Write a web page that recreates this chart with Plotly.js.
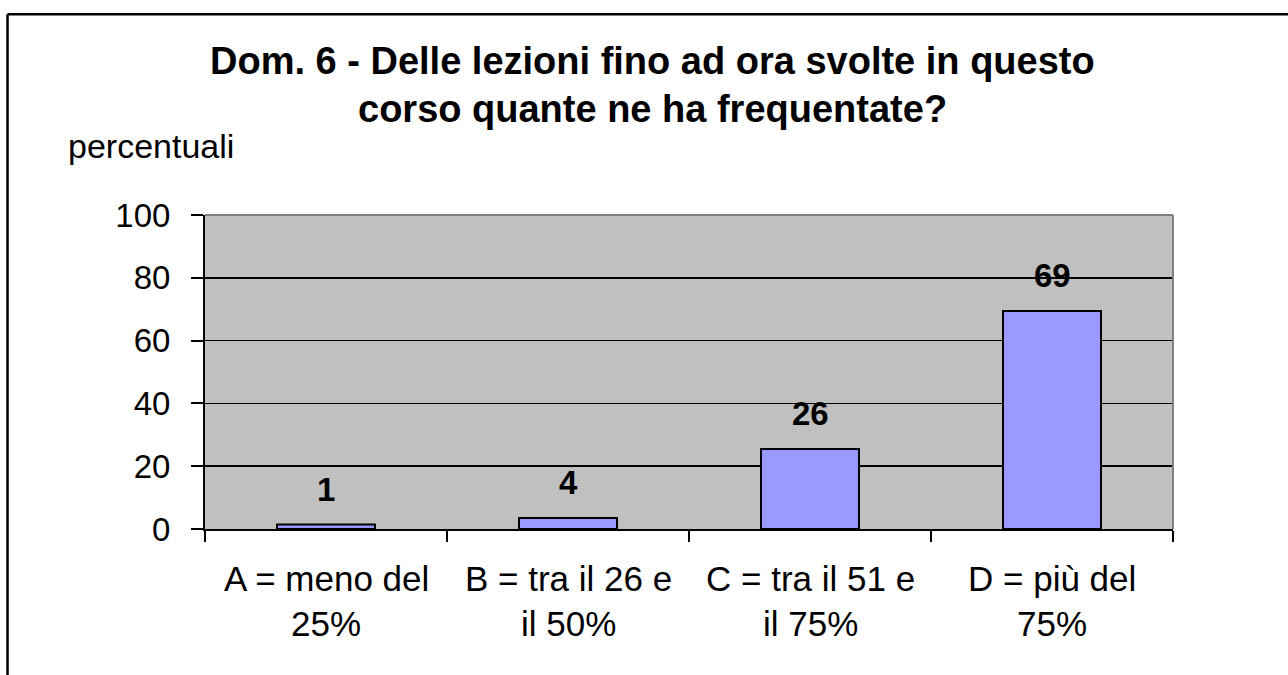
<!DOCTYPE html>
<html>
<head>
<meta charset="utf-8">
<script src="https://cdn.plot.ly/plotly-3.0.1.min.js"></script>
<style>
html,body{margin:0;padding:0;background:#fff;}
#chart{width:1288px;height:675px;}
</style>
</head>
<body>
<div id="chart"></div>
<script>
var categories = ["A", "B", "C", "D"];
var labelLine1 = ["A = meno del", "B = tra il 26 e", "C = tra il 51 e", "D = più del"];
var labelLine2 = ["25%", "il 50%", "il 75%", "75%"];
var values = [1.4, 3.5, 25.5, 69.4];
var titleLine1 = "Dom. 6 - Delle lezioni fino ad ora svolte in questo";
var titleLine2 = "corso quante ne ha frequentate?";
var yTitle = "percentuali";

var FONT = "Liberation Sans, Arial, sans-serif";

var annotations = [];
annotations.push({xref:'paper', yref:'paper', x:0.462, y:1.49, xanchor:'center', yanchor:'middle',
  text:'<b>'+titleLine1+'</b>', showarrow:false, font:{family:FONT, size:38, color:'#000'}});
annotations.push({xref:'paper', yref:'paper', x:0.462, y:1.338, xanchor:'center', yanchor:'middle',
  text:'<b>'+titleLine2+'</b>', showarrow:false, font:{family:FONT, size:38, color:'#000'}});
annotations.push({xref:'paper', yref:'paper', x:-0.1435, y:1.219, xanchor:'left', yanchor:'middle',
  text:yTitle, showarrow:false, font:{family:FONT, size:34, color:'#000'}});
for (var i = 0; i < categories.length; i++) {
  annotations.push({xref:'x', yref:'paper', x:categories[i], y:-0.157, xanchor:'center', yanchor:'middle',
    text:labelLine1[i], showarrow:false, font:{family:FONT, size:35, color:'#000'}});
  annotations.push({xref:'x', yref:'paper', x:categories[i], y:-0.300, xanchor:'center', yanchor:'middle',
    text:labelLine2[i], showarrow:false, font:{family:FONT, size:35, color:'#000'}});
  annotations.push({xref:'x', yref:'y', x:categories[i], y:values[i], xanchor:'center', yanchor:'bottom',
    yshift:15, text:'<b>'+Math.round(values[i])+'</b>', showarrow:false,
    font:{family:FONT, size:33, color:'#000'}});
}

var trace = {
  type:'bar', x:categories, y:values,
  marker:{color:'#9999FF', line:{color:'#000', width:2}},
  hoverinfo:'none'
};

var layout = {
  width:1288, height:675,
  margin:{l:205, r:115, t:215, b:145.5, pad:0},
  paper_bgcolor:'#ffffff', plot_bgcolor:'#C0C0C0',
  showlegend:false,
  bargap:0.595,
  font:{family:FONT, size:32, color:'#000'},
  xaxis:{type:'category', showticklabels:false, ticks:'outside', tickson:'boundaries',
    ticklen:11, tickwidth:2, tickcolor:'#000', showline:true, linecolor:'#000', linewidth:2,
    showgrid:false, zeroline:false, fixedrange:true},
  yaxis:{range:[0,100], dtick:20, tick0:0, ticks:'outside', ticklen:12, tickwidth:2, tickcolor:'#000',
    showline:true, linecolor:'#000', linewidth:2, showgrid:true, gridcolor:'#000', gridwidth:1.5,
    zeroline:false, tickfont:{family:FONT, size:33, color:'#000'}, ticklabelstandoff:14, fixedrange:true},
  annotations:annotations,
  shapes:[
    {type:'line', xref:'paper', yref:'paper', x0:0, x1:1, y0:1, y1:1, line:{color:'#808080', width:2}, layer:'above'},
    {type:'line', xref:'paper', yref:'paper', x0:1, x1:1, y0:0, y1:1, line:{color:'#808080', width:2}, layer:'above'},
    {type:'line', xref:'paper', yref:'paper', x0:-0.204, x1:1.4, y0:1.639, y1:1.639, line:{color:'#000', width:2.5}, layer:'below'},
    {type:'line', xref:'paper', yref:'paper', x0:-0.204, x1:-0.204, y0:-0.8, y1:1.639, line:{color:'#000', width:2.5}, layer:'below'}
  ]
};

Plotly.newPlot('chart', [trace], layout, {staticPlot:true, displayModeBar:false});
</script>
</body>
</html>
